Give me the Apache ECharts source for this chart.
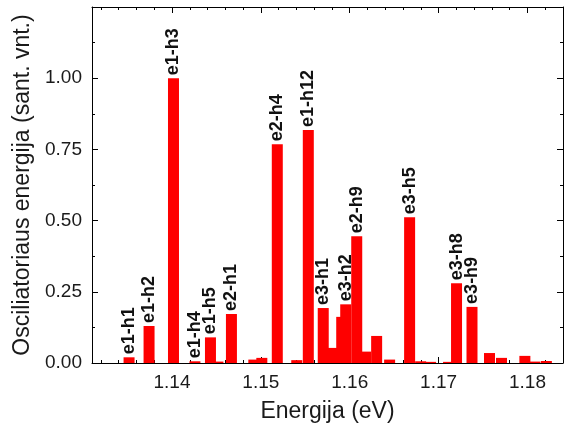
<!DOCTYPE html>
<html>
<head>
<meta charset="utf-8">
<script src="https://cdn.jsdelivr.net/npm/echarts@6/dist/echarts.min.js"></script>
<style>
  html, body { margin: 0; padding: 0; background: #fff; }
  #chart { width: 565px; height: 428px; }
</style>
</head>
<body>
<div id="chart"></div>
<script>
// Transition energies (eV) and oscillator strengths (arb. units)
const energies = [
  1.13517, 1.13742, 1.14017, 1.14258, 1.14433, 1.14517, 1.14669,
  1.14921, 1.15011, 1.15185, 1.15404, 1.15534, 1.15702, 1.15809,
  1.15910, 1.15955, 1.16079, 1.16180, 1.16303, 1.16449, 1.16674,
  1.16798, 1.16910, 1.17112, 1.17202, 1.17376, 1.17573, 1.17708,
  1.17971, 1.18084, 1.18213
];
const strengths = [
  0.020, 0.130, 1.000, 0.006, 0.090, 0.005, 0.172,
  0.012, 0.018, 0.768, 0.010, 0.818, 0.193, 0.053,
  0.162, 0.206, 0.445, 0.040, 0.095, 0.012, 0.512,
  0.006, 0.004, 0.004, 0.280, 0.197, 0.035, 0.018,
  0.025, 0.005, 0.007
];
const transitions = [
  'e1-h1', 'e1-h2', 'e1-h3', 'e1-h4', 'e1-h5', '', 'e2-h1',
  '', '', 'e2-h4', '', 'e1-h12', 'e3-h1', '',
  '', 'e3-h2', 'e2-h9', '', '', '', 'e3-h5',
  '', '', '', 'e3-h8', 'e3-h9', '', '',
  '', '', ''
];

// Axis ranges and tick values
const xMin = 1.131, xMax = 1.184;
const xMajorTicks = [1.14, 1.15, 1.16, 1.17, 1.18];
const yMin = 0, yMax = 1.25, yStep = 0.25;

const xMinorTicks = [];
for (let k = 1; k * 0.002 + 1.130 <= xMax + 1e-9; k++) {
  const v = +(1.130 + k * 0.002).toFixed(3);
  if (v >= xMin && !xMajorTicks.some(t => Math.abs(t - v) < 1e-9)) xMinorTicks.push(v);
}

const FONT = 'Liberation Sans, Arial, sans-serif';
const TXT = '#1a1a1a';
const LINE = { show: true, lineStyle: { color: '#000', width: 1 } };

const barData = energies.map((e, i) => ({
  value: [e, strengths[i]],
  label: { show: transitions[i] !== '', formatter: transitions[i] }
}));

function xAxisCfg(pos, ticks, len, withLine, withLabels) {
  const cfg = {
    type: 'value', position: pos, min: xMin, max: xMax,
    axisLine: withLine ? LINE : { show: false },
    axisTick: { show: true, inside: true, length: len, customValues: ticks,
                lineStyle: { color: '#000', width: 1 } },
    axisLabel: { show: false },
    splitLine: { show: false }
  };
  if (withLabels) {
    cfg.axisLabel = {
      show: true, customValues: xMajorTicks, margin: 10,
      formatter: v => v.toFixed(2),
      fontSize: 19, color: TXT, fontFamily: FONT
    };
    cfg.name = 'Energija (eV)';
    cfg.nameLocation = 'middle';
    cfg.nameGap = 37;
    cfg.nameTextStyle = { fontSize: 23, color: TXT, fontFamily: FONT };
  }
  return cfg;
}

function yAxisCfg(pos, withLabels) {
  const cfg = {
    type: 'value', position: pos, min: yMin, max: yMax, interval: yStep,
    axisLine: LINE,
    axisTick: { show: true, inside: true, length: 6, lineStyle: { color: '#000' } },
    minorTick: { show: true, splitNumber: 2, length: 3, lineStyle: { color: '#000' } },
    axisLabel: { show: false },
    splitLine: { show: false },
    minorSplitLine: { show: false }
  };
  if (withLabels) {
    cfg.axisLabel = {
      show: true, margin: 10, showMaxLabel: false,
      formatter: v => v.toFixed(2),
      fontSize: 19, color: TXT, fontFamily: FONT
    };
    cfg.name = 'Osciliatoriaus energija (sant. vnt.)';
    cfg.nameLocation = 'middle';
    cfg.nameGap = 57;
    cfg.nameTextStyle = { fontSize: 23, color: TXT, fontFamily: FONT };
  }
  return cfg;
}

const chart = echarts.init(document.getElementById('chart'), null, { renderer: 'canvas' });
chart.setOption({
  animation: false,
  backgroundColor: '#fff',
  grid: { left: 92, right: 2, top: 7, bottom: 65 },
  xAxis: [
    xAxisCfg('bottom', xMajorTicks, 6, true, true),
    xAxisCfg('bottom', xMinorTicks, 3, false, false),
    xAxisCfg('top', xMajorTicks, 6, true, false),
    xAxisCfg('top', xMinorTicks, 3, false, false)
  ],
  yAxis: [
    yAxisCfg('left', true),
    yAxisCfg('right', false)
  ],
  series: [{
    type: 'bar',
    xAxisIndex: 0,
    yAxisIndex: 0,
    barWidth: 11,
    itemStyle: { color: '#fe0000' },
    label: {
      rotate: 90, position: 'top', align: 'left', verticalAlign: 'middle',
      distance: 3, fontSize: 18, fontWeight: 'bold', color: '#111', fontFamily: FONT
    },
    data: barData
  }]
});
</script>
</body>
</html>
